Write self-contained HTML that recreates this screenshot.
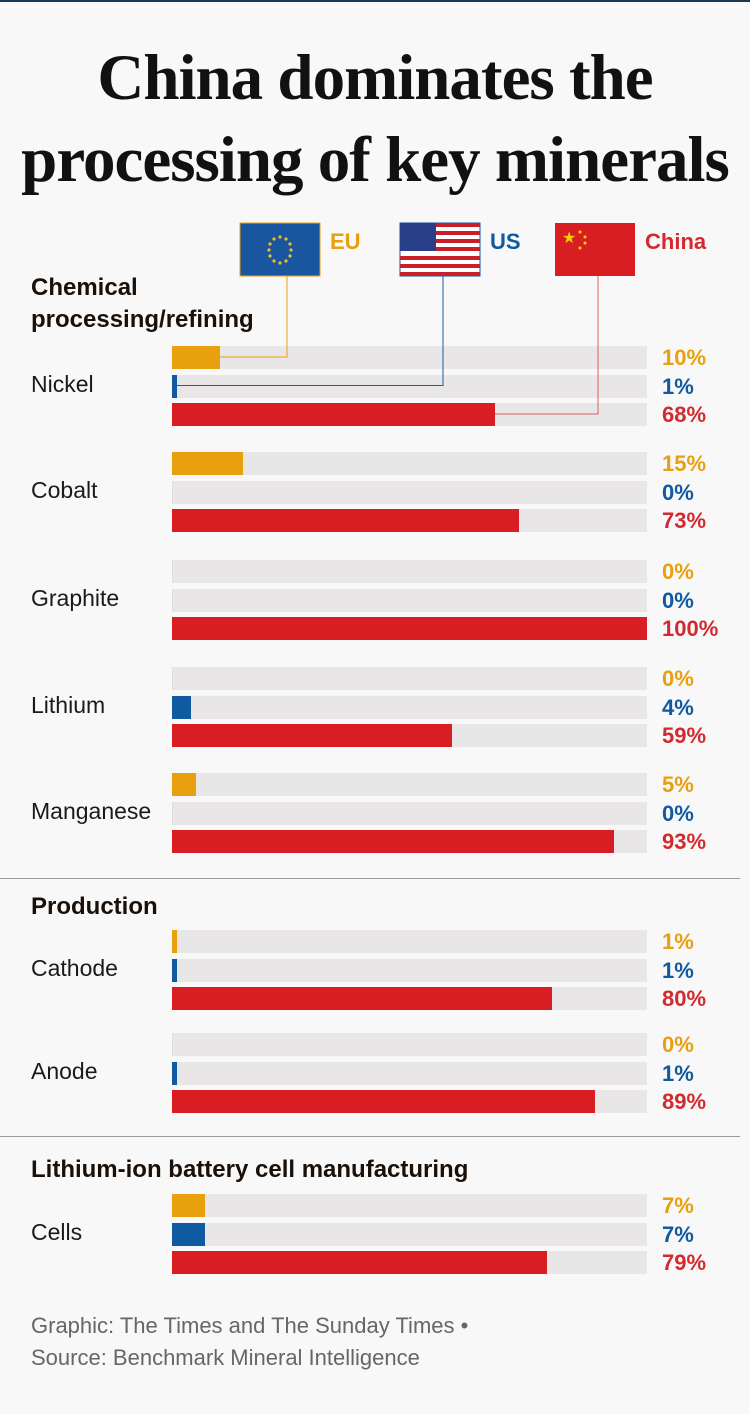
<!DOCTYPE html>
<html><head><meta charset="utf-8">
<style>
body{margin:0;background:#f8f8f8;}
#root{position:relative;width:750px;height:1414px;overflow:hidden;background:#f8f8f8;font-family:"Liberation Sans",sans-serif;}
.abs{position:absolute;}
.title{left:0;width:750px;text-align:center;font-family:"Liberation Serif",serif;font-weight:bold;font-size:65px;line-height:82px;color:#111;letter-spacing:-1px}
.sec{font-weight:bold;font-size:24px;color:#1a1008;line-height:32px}
.lab{font-size:23px;color:#1a1a1a}
.val{font-weight:bold;font-size:22px;left:662px}
.track{background:#e8e6e6;height:23px;left:172px;width:475px}
.bar{height:23px;left:172px}
.foot{left:31px;font-size:22px;color:#666;line-height:32px}
</style></head><body>
<div id="root">
<div class="abs" style="left:0;top:0;width:750px;height:2px;background:#1a3a52"></div>
<div class="abs title" style="top:37px">China dominates the<br>processing of key minerals</div>

<svg class="abs" style="left:0;top:0" width="750" height="300">
<g>
<rect x="240" y="223" width="80" height="53" fill="#1a56a0" stroke="#e8a00f" stroke-width="1"/>
<g fill="#f0c020">
<circle cx="280" cy="237" r="1.6"/><circle cx="286" cy="239" r="1.6"/><circle cx="290" cy="244" r="1.6"/><circle cx="291" cy="250" r="1.6"/><circle cx="290" cy="256" r="1.6"/><circle cx="286" cy="261" r="1.6"/><circle cx="280" cy="263" r="1.6"/><circle cx="274" cy="261" r="1.6"/><circle cx="270" cy="256" r="1.6"/><circle cx="269" cy="250" r="1.6"/><circle cx="270" cy="244" r="1.6"/><circle cx="274" cy="239" r="1.6"/>
</g></g>
<g>
<rect x="400" y="223" width="80" height="53" fill="#fff" stroke="#1a56a0"/>
<g fill="#c8202a">
<rect x="400" y="223" width="80" height="4"/><rect x="400" y="231" width="80" height="4"/><rect x="400" y="239" width="80" height="4"/><rect x="400" y="247" width="80" height="4"/><rect x="400" y="256" width="80" height="4"/><rect x="400" y="264" width="80" height="4"/><rect x="400" y="272" width="80" height="4"/>
</g>
<rect x="400" y="223" width="36" height="28" fill="#2a3f8a"/>
</g>
<g>
<rect x="555" y="223" width="80" height="53" fill="#d91e23"/>
<text x="562" y="243" fill="#f5d000" font-size="16">★</text>
<g fill="#f5d000"><circle cx="580" cy="232" r="1.5"/><circle cx="585" cy="237" r="1.5"/><circle cx="585" cy="243" r="1.5"/><circle cx="580" cy="248" r="1.5"/></g>
</g>
<text x="330" y="249" fill="#e8a00f" font-size="22" font-weight="bold" font-family="Liberation Sans">EU</text>
<text x="490" y="249" fill="#0f5aa0" font-size="22" font-weight="bold" font-family="Liberation Sans">US</text>
<text x="645" y="249" fill="#d22a2f" font-size="22" font-weight="bold" font-family="Liberation Sans">China</text>
</svg>

<div class="abs sec" style="left:31px;top:272px">Chemical<br>processing/refining</div>
<div class="abs sec" style="left:31px;top:891px">Production</div>
<div class="abs sec" style="left:31px;top:1154px">Lithium-ion battery cell manufacturing</div>
<div class="abs" style="left:0;top:878px;width:740px;height:1px;background:#999"></div>
<div class="abs" style="left:0;top:1136px;width:740px;height:1px;background:#999"></div>

<div class="abs foot" style="top:1310px">Graphic: The Times and The Sunday Times •<br>Source: Benchmark Mineral Intelligence</div>
</div>
<script>
const categories=["Nickel","Cobalt","Graphite","Lithium","Manganese","Cathode","Anode","Cells"];
const euValues=[10,15,0,0,5,1,0,7];
const usValues=[1,0,0,4,0,1,1,7];
const chinaValues=[68,73,100,59,93,80,89,79];
const groupTops=[346,452,560,667,773,930,1033,1194];
const colors=["#e8a00f","#0f5aa0","#d91e23"];
const valColors=["#e8a00f","#0f5aa0","#d22a2f"];
const seriesNames=["eu","us","china"];
const root=document.getElementById('root');
function xScale(v){return v/100*475;}
categories.forEach((c,i)=>{
  const top=groupTops[i];
  const lab=document.createElement('div');
  lab.className='abs lab';lab.style.left='31px';lab.style.top=(top+25)+'px';lab.textContent=c;
  
  
  root.appendChild(lab);
  [euValues,usValues,chinaValues].forEach((arr,s)=>{
    const y=top+s*28.5;
    const tr=document.createElement('div');tr.className='abs track';tr.style.top=y+'px';
    
    
    root.appendChild(tr);
    const w=xScale(arr[i]);
    const b=document.createElement('div');b.className='abs bar';b.style.top=y+'px';
    b.style.width=(w>0?Math.max(w,4):1)+'px';b.style.background=w>0?colors[s]:'#ddd';
    
    
    root.appendChild(b);
    const v=document.createElement('div');v.className='abs val';v.style.top=(y-1)+'px';v.style.color=valColors[s];v.textContent=arr[i]+'%';
    
    
    root.appendChild(v);
  });
});
// connectors drawn on top, ending at first group's bar ends
const NS='http://www.w3.org/2000/svg';
const svg=document.createElementNS(NS,'svg');
svg.setAttribute('width','750');svg.setAttribute('height','440');
svg.setAttribute('style','position:absolute;left:0;top:0;z-index:5');


const legendX=[287,443,598];
const lineColors=["#e8a00f","#1a5ea8","#e06060"];
[euValues,usValues,chinaValues].forEach((arr,s)=>{
  const y=groupTops[0]+s*28.5+11;
  const xe=172+Math.max(xScale(arr[0]),4);
  const p=document.createElementNS(NS,'polyline');
  p.setAttribute('points',legendX[s]+',276 '+legendX[s]+','+y+' '+xe+','+y);
  p.setAttribute('fill','none');p.setAttribute('stroke',lineColors[s]);p.setAttribute('stroke-width','1');
  
  
  svg.appendChild(p);
});
root.appendChild(svg);
</script>
</body></html>
